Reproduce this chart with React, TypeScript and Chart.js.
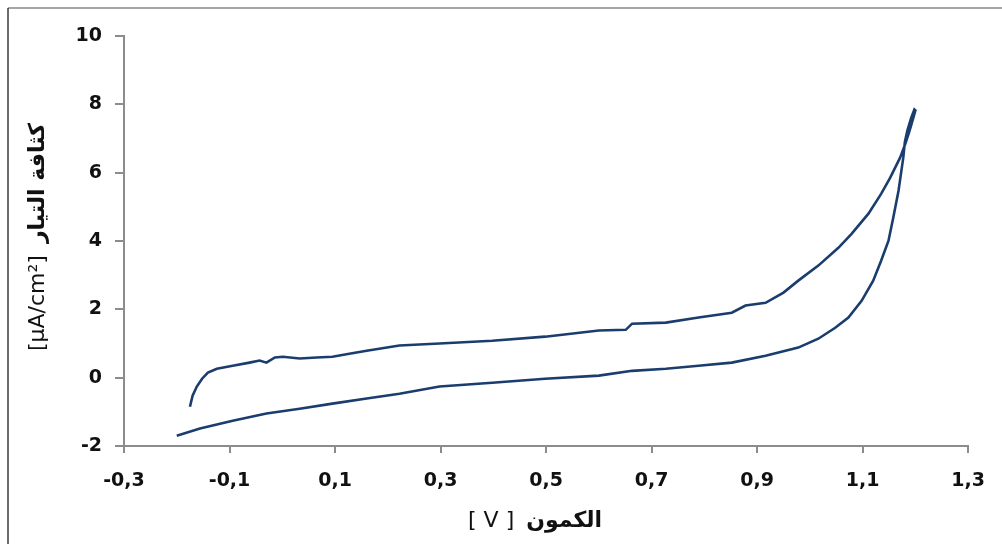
import { useEffect, useRef } from 'react';
import { Chart, registerables } from 'chart.js';

Chart.register(...registerables);

// Forward (anodic) sweep: potential [V] and current density [µA/cm²]
const anodicPotential = [
  -0.175, -0.17, -0.162, -0.152, -0.141, -0.124, -0.094, -0.062, -0.043, -0.03,
  -0.014, 0.001, 0.033, 0.065, 0.095, 0.127, 0.16, 0.222, 0.298, 0.398,
  0.498, 0.6, 0.651, 0.663, 0.727, 0.789, 0.852, 0.878, 0.916, 0.95,
  0.978, 1.016, 1.054, 1.079, 1.111, 1.135, 1.152, 1.171, 1.181, 1.189,
  1.196, 1.2,
];
const anodicCurrent = [
  -0.85, -0.53, -0.26, -0.03, 0.15, 0.26, 0.35, 0.44, 0.5, 0.44,
  0.59, 0.61, 0.56, 0.59, 0.61, 0.7, 0.79, 0.94, 1.0, 1.08,
  1.2, 1.38, 1.4, 1.58, 1.61, 1.76, 1.9, 2.11, 2.19, 2.49,
  2.84, 3.28, 3.8, 4.21, 4.8, 5.38, 5.85, 6.44, 6.85, 7.23,
  7.6, 7.82,
];

// Reverse (cathodic) sweep
const cathodicPotential = [
  1.198, 1.192, 1.185, 1.18, 1.177, 1.168, 1.158, 1.149, 1.135, 1.12,
  1.098, 1.073, 1.048, 1.016, 0.978, 0.916, 0.852, 0.789, 0.727, 0.663,
  0.6, 0.498, 0.398, 0.298, 0.222, 0.16, 0.095, 0.033, -0.03, -0.094,
  -0.156, -0.2,
];
const cathodicCurrent = [
  7.85, 7.6, 7.25, 6.9, 6.44, 5.47, 4.68, 4.01, 3.42, 2.84,
  2.25, 1.76, 1.46, 1.14, 0.88, 0.64, 0.44, 0.35, 0.26, 0.2,
  0.06, -0.03, -0.15, -0.26, -0.47, -0.61, -0.76, -0.91, -1.05, -1.26,
  -1.49, -1.7,
];

const xTicks = [-0.3, -0.1, 0.1, 0.3, 0.5, 0.7, 0.9, 1.1, 1.3];
const yTicks = [-2, 0, 2, 4, 6, 8, 10];

// Axis titles: unit part and Arabic name part
const xTitleUnit = '[ V ]';
const xTitleName = 'الكمون';
const yTitleUnit = '[µA/cm²]';
const yTitleName = 'كثافة التيار';

const lineColor = '#1b3d6d';
const axisColor = '#8c8c8c';
const textColor = '#111';
const labelFont = { family: '"DejaVu Sans", sans-serif', size: 19, weight: 'bold' as const };
const unitFont = '22px "DejaVu Sans", sans-serif';
const nameFont = 'bold 22px "DejaVu Sans", sans-serif';

const fmt = (v: number) => v.toFixed(Number.isInteger(v) ? 0 : 1).replace('.', ',');

// Draws "unit  name" as one label centred on (cx, cy), optionally rotated
function drawTwoPartLabel(
  ctx: CanvasRenderingContext2D,
  unit: string,
  name: string,
  cx: number,
  cy: number,
  angle: number,
  gap: number
) {
  ctx.save();
  ctx.translate(cx, cy);
  ctx.rotate(angle);
  ctx.fillStyle = textColor;
  ctx.textBaseline = 'alphabetic';
  ctx.textAlign = 'left';
  ctx.font = unitFont;
  const wUnit = ctx.measureText(unit).width;
  ctx.font = nameFont;
  const wName = ctx.measureText(name).width;
  const total = wUnit + gap + wName;
  const x0 = -total / 2;
  const baseline = 7;
  ctx.font = unitFont;
  ctx.fillText(unit, x0, baseline);
  ctx.font = nameFont;
  ctx.fillText(name, x0 + wUnit + gap, baseline);
  ctx.restore();
}

// Frame along the top and left edges, plus the axis titles
const decorPlugin = {
  id: 'decor',
  afterDraw(chart: Chart) {
    const ctx = chart.ctx;
    const area = chart.chartArea;
    ctx.save();
    ctx.strokeStyle = '#a6a6a6';
    ctx.lineWidth = 2;
    ctx.beginPath();
    ctx.moveTo(8, 8);
    ctx.lineTo(chart.width, 8);
    ctx.stroke();
    ctx.strokeStyle = '#3a3a3a';
    ctx.lineWidth = 1.5;
    ctx.beginPath();
    ctx.moveTo(8, 8);
    ctx.lineTo(8, chart.height);
    ctx.stroke();
    ctx.restore();

    const midX = (area.left + area.right) / 2;
    const midY = (area.top + area.bottom) / 2;
    drawTwoPartLabel(ctx, xTitleUnit, xTitleName, midX - 11, area.bottom + 74, 0, 12);
    drawTwoPartLabel(ctx, yTitleUnit, yTitleName, 37, midY - 4, -Math.PI / 2, 12);
  },
};

export default function App() {
  const ref = useRef<HTMLCanvasElement>(null);

  useEffect(() => {
    if (!ref.current) return;
    const points = [
      ...anodicPotential.map((v, i) => ({ x: v, y: anodicCurrent[i] })),
      ...cathodicPotential.map((v, i) => ({ x: v, y: cathodicCurrent[i] })),
    ];

    const chart = new Chart(ref.current, {
      type: 'scatter',
      data: {
        datasets: [
          {
            data: points,
            showLine: true,
            borderColor: lineColor,
            backgroundColor: lineColor,
            borderWidth: 2.6,
            pointRadius: 0,
            tension: 0,
            fill: false,
          },
        ],
      },
      options: {
        animation: false,
        responsive: false,
        maintainAspectRatio: false,
        layout: { padding: { top: 36, right: 32, left: 0, bottom: 0 } },
        plugins: {
          legend: { display: false },
          tooltip: { enabled: false },
        },
        scales: {
          x: {
            type: 'linear',
            min: -0.3,
            max: 1.3,
            afterBuildTicks: (s: any) => {
              s.ticks = xTicks.map((v) => ({ value: v }));
            },
            afterFit: (s: any) => {
              s.height = 98;
            },
            grid: {
              drawOnChartArea: false,
              drawTicks: true,
              tickLength: 7,
              color: axisColor,
              lineWidth: 2,
            },
            border: { color: axisColor, width: 2 },
            ticks: {
              font: labelFont,
              color: textColor,
              padding: 17,
              maxRotation: 0,
              autoSkip: false,
              callback: (v: any) => fmt(Number(v)),
            },
          },
          y: {
            type: 'linear',
            min: -2,
            max: 10,
            afterBuildTicks: (s: any) => {
              s.ticks = yTicks.map((v) => ({ value: v }));
            },
            afterFit: (s: any) => {
              s.width = 124;
            },
            grid: {
              drawOnChartArea: false,
              drawTicks: true,
              tickLength: 9,
              color: axisColor,
              lineWidth: 2,
            },
            border: { color: axisColor, width: 2 },
            ticks: {
              font: labelFont,
              color: textColor,
              padding: 13,
              autoSkip: false,
              callback: (v: any) => fmt(Number(v)),
            },
          },
        },
      },
      plugins: [decorPlugin],
    });

    return () => chart.destroy();
  }, []);

  return (
    <div style={{ position: 'fixed', left: 0, top: 0, width: 1002, height: 544, background: '#fff' }}>
      <canvas ref={ref} width={1002} height={544} style={{ display: 'block' }} />
    </div>
  );
}
